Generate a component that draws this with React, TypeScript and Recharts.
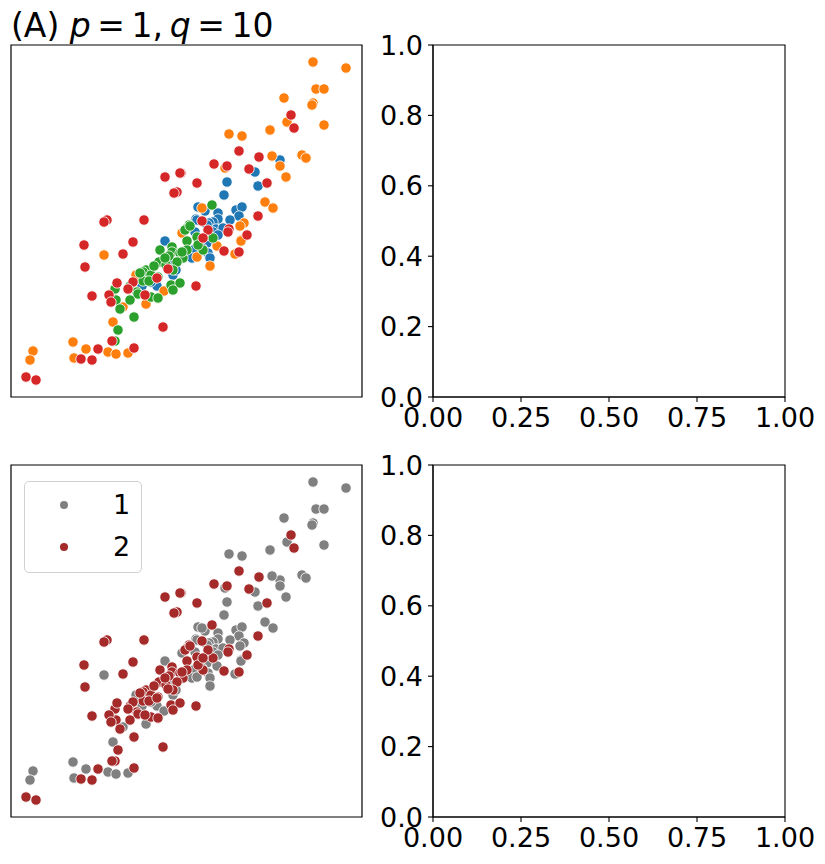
import React from "react";
import {
  ScatterChart,
  Scatter,
  XAxis,
  YAxis,
  ReferenceArea,
} from "recharts";

// ---- data (x, y in arbitrary units) ----
const blueX = [269,244,216,247,213,187,194,207,225,231,228,207,202,198,185,154,131,146,162,205,212,184,186,196,202,189,196,184,191,197,199,181,207,219,159,165,140];
const blueY = [237,225,215,211,202,190,186,184,187,190,181,178,175,174,178,156,111,111,122,168,169,165,177,172,165,157,154,148,149,144,139,139,162,177,135,127,115];

const orangeX = [302,335,305,313,273,302,301,276,313,218,231,259,261,291,295,269,214,275,254,262,191,233,229,171,93,125,153,112,135,102,62,75,63,97,105,117,22,19,230,230,206,224,186,199];
const orangeY = [335,329,308,308,299,294,292,275,272,263,261,267,241,242,239,231,229,220,195,189,189,174,171,164,142,122,106,90,93,75,55,48,39,45,43,44,46,37,157,156,151,143,140,131];

const greenX = [201,178,176,174,161,161,169,172,158,166,148,155,162,135,132,140,147,132,160,169,162,119,104,126,127,140,147,105,119,109,123,107,104,179,186,202,176,192,176,171,187,149,154,143,138,129];
const greenY = [192,172,169,167,150,145,144,139,141,135,135,132,127,127,125,122,120,116,112,114,107,111,108,105,103,100,99,97,97,88,80,67,56,171,160,159,156,147,147,145,152,147,139,131,116,124];

const redX = [280,283,228,248,203,216,238,170,186,256,247,191,154,169,166,163,96,93,133,73,122,112,74,157,146,122,106,117,81,98,134,100,152,101,87,123,70,81,15,25,197,218,217,236,192,213,228,185];
const redY = [282,269,246,240,233,231,228,224,214,214,181,176,220,224,205,204,177,175,177,152,155,143,130,128,119,115,114,108,101,102,102,95,70,56,48,49,38,37,20,17,167,168,165,162,159,146,145,111];

const groupNames = ["1", "2"];
const unitTicksX = [0, 0.25, 0.5, 0.75, 1];
const unitTicksY = [0, 0.2, 0.4, 0.6, 0.8, 1];
const titleText = "(A)";

const COLORS = {
  blue: "#1f77b4",
  orange: "#ff7f0e",
  green: "#2ca02c",
  red: "#d62728",
  gray: "#808080",
  brown: "#a52a2a",
};

const zip = (xs: number[], ys: number[]) => xs.map((x, i) => ({ x, y: ys[i] }));

const blue = zip(blueX, blueY);
const orange = zip(orangeX, orangeY);
const green = zip(greenX, greenY);
const red = zip(redX, redY);
const group1 = [...blue, ...orange];
const group2 = [...green, ...red];

const FONT = "'DejaVu Sans', sans-serif";
const TICK_FS = 27;

const dot = (color: string) => (props: any) => (
  <circle cx={props.cx} cy={props.cy} r={5.2} fill={color} stroke="#ffffff" strokeWidth={0.8} />
);

const XMAX = 351;
const YMAX = 352;

type Group = { name: string; color: string; data: { x: number; y: number }[] };

function LegendBox({ groups }: { groups: Group[] }) {
  return (
    <div
      style={{
        position: "absolute",
        left: 24,
        top: 481,
        width: 118,
        height: 92,
        boxSizing: "border-box",
        border: "1px solid #d0d0d0",
        borderRadius: 5,
        background: "rgba(255,255,255,0.8)",
        fontFamily: FONT,
        fontSize: 27,
      }}
    >
      {groups.map((g, i) => (
        <div key={i} style={{ position: "absolute", left: 0, top: 23 + i * 42 - 16, height: 32, width: 118 }}>
          <svg width={20} height={32} style={{ position: "absolute", left: 29, top: 0 }}>
            <circle cx={10} cy={16} r={4} fill={g.color} />
          </svg>
          <span style={{ position: "absolute", left: 88, top: 1, lineHeight: "30px", color: "#000" }}>{g.name}</span>
        </div>
      ))}
    </div>
  );
}

function ScatterPanel({ top, groups }: { top: number; groups: Group[] }) {
  return (
    <div style={{ position: "absolute", left: 9, top: top - 2 }}>
      <ScatterChart width={XMAX + 4} height={YMAX + 4} margin={{ top: 2, right: 2, bottom: 2, left: 2 }}>
        <XAxis type="number" dataKey="x" domain={[0, XMAX]} hide allowDataOverflow />
        <YAxis type="number" dataKey="y" domain={[0, YMAX]} hide allowDataOverflow />
        {groups.map((g) => (
          <Scatter key={g.name} name={g.name} data={g.data} fill={g.color} shape={dot(g.color)} isAnimationActive={false} />
        ))}
        <ReferenceArea x1={0} x2={XMAX} y1={0} y2={YMAX} fill="none" fillOpacity={0} stroke="#000" strokeWidth={1.2} ifOverflow="visible" />
      </ScatterChart>
    </div>
  );
}

function EmptyPanel({ top }: { top: number }) {
  return (
    <div style={{ position: "absolute", left: 360, top: top - 15 }}>
      <ScatterChart width={465} height={412} margin={{ top: 15, right: 40, bottom: 0, left: 0 }}>
        <XAxis
          type="number"
          dataKey="x"
          domain={[0, 1]}
          ticks={unitTicksX}
          tickFormatter={(v: number) => v.toFixed(2)}
          height={45}
          tickSize={5}
          tickMargin={6}
          axisLine={{ stroke: "#000", strokeWidth: 1.1 }}
          tickLine={{ stroke: "#000", strokeWidth: 1.1 }}
          tick={{ fontSize: TICK_FS, fill: "#000", fontFamily: FONT }}
          interval={0}
          allowDataOverflow
        />
        <YAxis
          type="number"
          dataKey="y"
          domain={[0, 1]}
          ticks={unitTicksY}
          tickFormatter={(v: number) => v.toFixed(1)}
          width={73}
          tickSize={5}
          tickMargin={5}
          axisLine={{ stroke: "#000", strokeWidth: 1.1 }}
          tickLine={{ stroke: "#000", strokeWidth: 1.1 }}
          tick={{ fontSize: TICK_FS, fill: "#000", fontFamily: FONT }}
          interval={0}
          allowDataOverflow
        />
        <Scatter data={[]} isAnimationActive={false} />
        <ReferenceArea x1={0} x2={1} y1={0} y2={1} fill="none" fillOpacity={0} stroke="#000" strokeWidth={1.1} ifOverflow="visible" />
      </ScatterChart>
    </div>
  );
}

const bottomGroups: Group[] = [
  { name: groupNames[0], color: COLORS.gray, data: group1 },
  { name: groupNames[1], color: COLORS.brown, data: group2 },
];

export default function App() {
  return (
    <div style={{ position: "absolute", left: 0, top: 0, width: 825, height: 864, background: "#fff", fontFamily: FONT }}>
      <div style={{ position: "absolute", left: 11, top: 9, fontSize: 33, lineHeight: 1, whiteSpace: "nowrap", color: "#000" }}>
        {titleText} <i>p</i>{"\u2009=\u20091,\u2009"}<i>q</i>{"\u2009=\u200910"}
      </div>
      <ScatterPanel
        top={45}
        groups={[
          { name: "blue", color: COLORS.blue, data: blue },
          { name: "orange", color: COLORS.orange, data: orange },
          { name: "green", color: COLORS.green, data: green },
          { name: "red", color: COLORS.red, data: red },
        ]}
      />
      <EmptyPanel top={45} />
      <ScatterPanel top={465} groups={bottomGroups} />
      <LegendBox groups={bottomGroups} />
      <EmptyPanel top={465} />
    </div>
  );
}
